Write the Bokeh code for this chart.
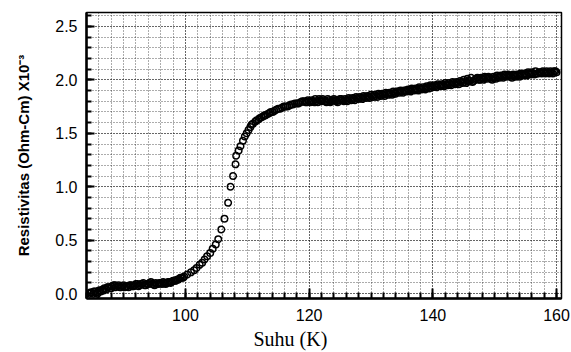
from bokeh.plotting import figure
from bokeh.models import SingleIntervalTicker, Range1d, Title, PrintfTickFormatter
from bokeh.embed import file_html
from bokeh.resources import INLINE

# Temperature (K) and resistivity (Ohm-Cm x 1e-3)
temp_low = [84.5, 84.8, 85.1, 85.4, 85.7, 86.0, 86.3, 86.6, 86.9, 87.2, 87.5, 87.8,
            88.1, 88.4, 88.7, 89.0, 89.4, 89.8, 90.2, 90.6, 91.0, 91.4, 91.8, 92.2,
            92.6, 93.0, 93.4, 93.8, 94.2, 94.6, 95.0, 95.4, 95.8, 96.2, 96.6, 97.0,
            97.4, 97.8, 98.2, 98.6, 99.0, 99.4, 99.8]
rho_low = [0.00, 0.01, 0.00, 0.02, 0.01, 0.03, 0.02, 0.04, 0.05, 0.04, 0.06, 0.05,
           0.07, 0.08, 0.06, 0.07, 0.06, 0.07, 0.06, 0.07, 0.08, 0.07, 0.08, 0.09,
           0.08, 0.09, 0.08, 0.09, 0.10, 0.09, 0.08, 0.09, 0.10, 0.09, 0.10, 0.10,
           0.11, 0.11, 0.12, 0.13, 0.14, 0.15, 0.16]

temp_low2 = [84.6, 85.2, 85.8, 86.2, 86.8, 87.4, 88.0, 88.6, 89.2, 89.6, 90.0, 90.4,
             90.8, 91.2, 91.6, 92.0, 92.4, 92.8, 93.2, 93.6, 94.0, 94.4, 94.8, 95.2,
             95.6, 96.0, 96.4, 96.8, 97.2, 97.6, 98.0, 98.4, 98.8, 99.2, 99.6]
rho_low2 = [0.01, 0.02, 0.00, 0.03, 0.03, 0.06, 0.05, 0.08, 0.08, 0.06, 0.08, 0.07,
            0.06, 0.08, 0.07, 0.09, 0.07, 0.09, 0.10, 0.08, 0.09, 0.11, 0.09, 0.10,
            0.09, 0.10, 0.11, 0.09, 0.11, 0.10, 0.12, 0.12, 0.13, 0.15, 0.15]

temp_trans = [100.3, 100.9, 101.4, 101.8, 102.3, 102.7, 103.1, 103.5, 104.0, 104.4,
              104.9, 105.3, 105.8, 106.3, 106.9, 107.3, 107.7, 108.1, 108.2, 108.6,
              108.9, 109.3, 109.6, 109.9, 110.2, 110.5, 110.9, 111.3, 111.8, 112.3,
              112.8, 113.3, 113.8, 114.4, 115.0, 115.6, 116.2, 116.8, 117.4, 118.0,
              118.6, 119.2]
rho_trans = [0.18, 0.20, 0.22, 0.24, 0.27, 0.29, 0.32, 0.35, 0.38, 0.42,
             0.46, 0.51, 0.60, 0.70, 0.85, 1.00, 1.10, 1.21, 1.29, 1.34,
             1.38, 1.43, 1.47, 1.50, 1.53, 1.56, 1.59, 1.61, 1.63, 1.65,
             1.67, 1.68, 1.70, 1.71, 1.73, 1.74, 1.75, 1.76, 1.77, 1.78,
             1.79, 1.80]

temp_trans2 = [110.7, 111.5, 112.0, 112.6, 113.0, 113.6, 114.1, 114.7, 115.3, 115.9,
               116.5, 117.1, 117.7, 118.3, 118.9, 119.4]
rho_trans2 = [1.58, 1.62, 1.64, 1.66, 1.67, 1.69, 1.70, 1.72, 1.73, 1.75,
              1.75, 1.77, 1.78, 1.78, 1.80, 1.79]

temp_norm = [119.6, 120.0, 120.4, 120.8, 121.2, 121.6, 122.0, 122.4, 122.8, 123.2,
             123.6, 124.0, 124.4, 124.8, 125.2, 125.6, 126.0, 126.4, 126.8, 127.2,
             127.6, 128.0, 128.4, 128.8, 129.2, 129.6, 130.0, 130.4, 130.8, 131.2,
             131.6, 132.0, 132.4, 132.8, 133.2, 133.6, 134.0, 134.4, 134.8, 135.2,
             135.6, 136.0, 136.4, 136.8, 137.2, 137.6, 138.0, 138.4, 138.8, 139.2,
             139.6, 140.0, 140.4, 140.8, 141.2, 141.6, 142.0, 142.4, 142.8, 143.2,
             143.6, 144.0, 144.4, 144.8, 145.2, 145.6, 146.0, 146.4, 146.8, 147.2,
             147.6, 148.0, 148.4, 148.8, 149.2, 149.6, 150.0, 150.4, 150.8, 151.2,
             151.6, 152.0, 152.4, 152.8, 153.2, 153.6, 154.0, 154.4, 154.8, 155.2,
             155.6, 156.0, 156.4, 156.8, 157.2, 157.6, 158.0, 158.4, 158.8, 159.2,
             159.6, 160.0]
rho_norm = [1.79, 1.80, 1.81, 1.79, 1.80, 1.82, 1.80, 1.81, 1.79, 1.81,
            1.80, 1.82, 1.80, 1.81, 1.82, 1.80, 1.81, 1.83, 1.81, 1.82,
            1.84, 1.82, 1.83, 1.85, 1.83, 1.84, 1.86, 1.84, 1.85, 1.87,
            1.85, 1.86, 1.88, 1.86, 1.87, 1.89, 1.87, 1.89, 1.90, 1.88,
            1.90, 1.91, 1.89, 1.91, 1.92, 1.90, 1.92, 1.93, 1.91, 1.93,
            1.95, 1.93, 1.94, 1.96, 1.94, 1.95, 1.97, 1.95, 1.96, 1.98,
            1.96, 1.97, 1.99, 1.97, 1.98, 2.01, 1.99, 1.98, 2.00, 2.02,
            2.00, 2.01, 2.03, 2.01, 2.02, 2.00, 2.02, 2.04, 2.02, 2.03,
            2.05, 2.03, 2.04, 2.02, 2.04, 2.05, 2.03, 2.05, 2.06, 2.04,
            2.06, 2.07, 2.05, 2.06, 2.07, 2.06, 2.07, 2.08, 2.06, 2.07,
            2.08, 2.07]

temp_norm2 = [119.8, 120.2, 120.6, 121.0, 121.4, 121.8, 122.2, 122.6, 123.0, 123.4,
              123.8, 124.2, 124.6, 125.0, 125.4, 125.8, 126.2, 126.6, 127.0, 127.4,
              127.8, 128.2, 128.6, 129.0, 129.4, 129.8, 130.2, 130.6, 131.0, 131.4,
              131.8, 132.2, 132.6, 133.0, 133.4, 133.8, 134.2, 134.6, 135.0, 135.4,
              135.8, 136.2, 136.6, 137.0, 137.4, 137.8, 138.2, 138.6, 139.0, 139.4,
              139.8, 140.2, 140.6, 141.0, 141.4, 141.8, 142.2, 142.6, 143.0, 143.4,
              143.8, 144.2, 144.6, 145.0, 145.4, 145.8, 146.2, 146.6, 147.0, 147.4,
              147.8, 148.2, 148.6, 149.0, 149.4, 149.8, 150.2, 150.6, 151.0, 151.4,
              151.8, 152.2, 152.6, 153.0, 153.4, 153.8, 154.2, 154.6, 155.0, 155.4,
              155.8, 156.2, 156.6, 157.0, 157.4, 157.8, 158.2, 158.6, 159.0, 159.4,
              159.8]
rho_norm2 = [1.81, 1.79, 1.80, 1.82, 1.79, 1.81, 1.82, 1.80, 1.82, 1.79,
             1.81, 1.81, 1.79, 1.82, 1.81, 1.82, 1.80, 1.82, 1.83, 1.81,
             1.83, 1.84, 1.82, 1.84, 1.85, 1.83, 1.85, 1.86, 1.84, 1.86,
             1.87, 1.85, 1.87, 1.88, 1.86, 1.88, 1.89, 1.88, 1.89, 1.90,
             1.89, 1.90, 1.92, 1.90, 1.91, 1.93, 1.91, 1.92, 1.94, 1.92,
             1.94, 1.95, 1.93, 1.95, 1.96, 1.94, 1.96, 1.97, 1.95, 1.97,
             1.98, 1.96, 1.98, 2.00, 1.97, 1.99, 2.02, 1.99, 2.01, 2.00,
             2.02, 2.00, 2.02, 2.03, 2.01, 2.03, 2.01, 2.03, 2.04, 2.02,
             2.04, 2.05, 2.03, 2.05, 2.03, 2.04, 2.06, 2.04, 2.05, 2.07,
             2.05, 2.06, 2.08, 2.06, 2.07, 2.08, 2.06, 2.07, 2.08, 2.06,
             2.08]

temperature = temp_low + temp_low2 + temp_trans + temp_trans2 + temp_norm + temp_norm2
resistivity = rho_low + rho_low2 + rho_trans + rho_trans2 + rho_norm + rho_norm2

x_label = "Suhu (K)"
y_label = "Resistivitas (Ohm-Cm) X10\u207b\u00b3"

p = figure(width=571, height=352, output_backend="svg", toolbar_location=None,
           x_range=Range1d(84.0, 160.8), y_range=Range1d(-0.045, 2.63),
           min_border_left=86, min_border_right=10, min_border_top=12,
           min_border_bottom=10)
p.background_fill_color = "white"
p.border_fill_color = "white"
p.outline_line_color = "black"
p.outline_line_width = 1.5

p.scatter(temperature, resistivity, marker="circle", size=6.5,
          fill_color=None, line_color="black", line_width=1.5)

p.xaxis.ticker = SingleIntervalTicker(interval=20, num_minor_ticks=10)
p.yaxis.ticker = SingleIntervalTicker(interval=0.5, num_minor_ticks=5)
p.yaxis.formatter = PrintfTickFormatter(format="%.1f")

for ax in (p.xaxis[0], p.yaxis[0]):
    ax.axis_line_width = 2.5
    ax.axis_line_color = "black"
    ax.major_tick_out = 0
    ax.minor_tick_out = 0
    ax.major_tick_line_color = "black"
    ax.minor_tick_line_color = "black"
    ax.major_tick_line_width = 2
    ax.minor_tick_line_width = 2
    ax.major_label_text_font = "Liberation Sans"
    ax.major_label_text_font_size = "16px"
    ax.major_label_text_color = "black"

p.xaxis.major_label_standoff = 10
p.yaxis.major_label_standoff = 9
p.xaxis.major_tick_in = 10
p.xaxis.minor_tick_in = 6
p.yaxis.major_tick_in = 8
p.yaxis.minor_tick_in = 5

p.yaxis.axis_label = y_label
p.yaxis.axis_label_text_font = "Liberation Sans"
p.yaxis.axis_label_text_font_style = "bold"
p.yaxis.axis_label_text_font_size = "15px"
p.yaxis.axis_label_text_color = "black"
p.yaxis.axis_label_standoff = 20

for g in (p.xgrid[0], p.ygrid[0]):
    g.grid_line_color = "black"
    g.grid_line_alpha = 0.8
    g.grid_line_dash = "1 2"
    g.grid_line_width = 1
    g.minor_grid_line_color = "black"
    g.minor_grid_line_alpha = 0.65
    g.minor_grid_line_dash = "1 2"
    g.minor_grid_line_width = 1

p.add_layout(Title(text=x_label, align="left", offset=167, standoff=5,
                   text_font="Liberation Serif", text_font_size="20px",
                   text_font_style="normal", text_color="black"), "below")

open("out.html", "w").write(file_html(p, INLINE))
